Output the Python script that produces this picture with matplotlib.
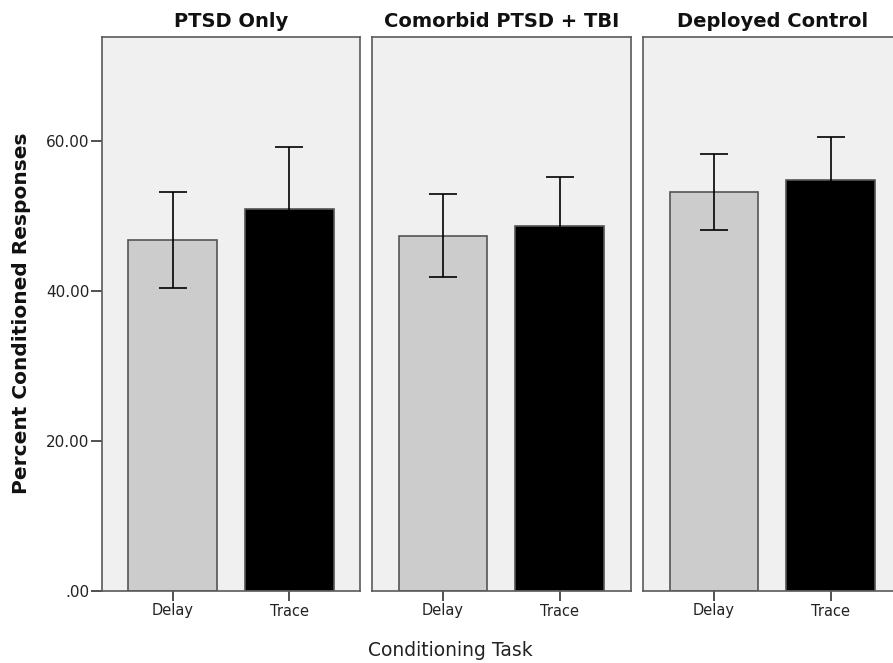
import matplotlib
matplotlib.use("Agg")
import matplotlib.pyplot as plt

groups = ["PTSD Only", "Comorbid PTSD + TBI", "Deployed Control"]
tasks = ["Delay", "Trace"]
delay_means = [46.8, 47.4, 53.2]
delay_err = [6.4, 5.5, 5.1]
trace_means = [51.0, 48.7, 54.8]
trace_err = [8.2, 6.5, 5.8]
yticks = [0, 20, 40, 60]
ytick_labels = [".00", "20.00", "40.00", "60.00"]

plt.rcParams['font.family'] = ['DejaVu Sans']

W, H = 893, 663
fig = plt.figure(figsize=(W / 100, H / 100), dpi=100)

lefts = [101.7, 372.0, 643.0]
pw = 258.6
bottom_px = 591
top_px = 37

frame_col = "#5a5a5a"
for i, g in enumerate(groups):
    ax = fig.add_axes([lefts[i] / W, (H - bottom_px) / H, pw / W, (bottom_px - top_px) / H])
    ax.set_facecolor("#f0f0f0")
    vals = [delay_means[i], trace_means[i]]
    errs = [delay_err[i], trace_err[i]]
    ax.bar([0, 1], vals, width=0.76, color=["#cccccc", "#000000"],
           edgecolor="#555555", linewidth=1.2, zorder=2)
    ax.errorbar([0, 1], vals, yerr=errs, fmt="none", ecolor="#000000",
                elinewidth=1.2, capsize=10, capthick=1.2, zorder=3)
    ax.set_xlim(-0.61, 1.61)
    ax.set_ylim(0, 73.9)
    ax.set_xticks([0, 1])
    ax.set_xticklabels(tasks, fontsize=10.5, color="#222222")
    ax.tick_params(axis="x", length=7, width=1.2, color="#333333", pad=2)
    for s in ax.spines.values():
        s.set_color(frame_col)
        s.set_linewidth(1.2)
    if i == 2:
        ax.spines["right"].set_visible(False)
    if i == 0:
        ax.set_yticks(yticks)
        ax.set_yticklabels(ytick_labels, fontsize=11, color="#222222")
        ax.tick_params(axis="y", length=8, width=1.2, color="#333333", pad=1)
    else:
        ax.set_yticks([])
    ax.set_title(g, fontsize=14, fontweight="bold", pad=7, color="#111111")

fig.text(22 / W, 1 - 313 / H, "Percent Conditioned Responses", rotation=90,
         ha="center", va="center", fontsize=14.5, fontweight="bold", color="#111111")
fig.text(450 / W, 1 - 650 / H, "Conditioning Task", ha="center", va="center",
         fontsize=13.5, color="#222222")

fig.savefig("out.png", dpi=100)
